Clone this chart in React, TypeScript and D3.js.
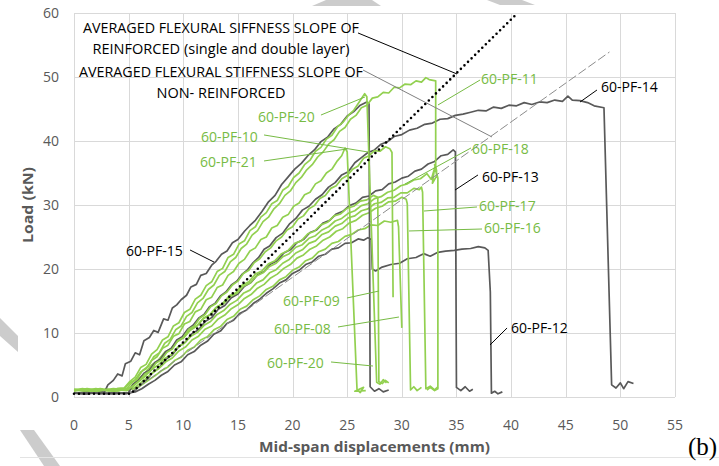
import React, { useEffect, useRef } from 'react';
import * as d3 from 'd3';

type Pt = [number, number];

// mid-span displacement (mm), load (kN)
const pf15: Pt[] = [[0,0.6],[1,0.7],[2,0.6],[2.8,0.8],[3.1,1.9],[3.6,2.6],[4.0,3.6],[4.4,3.3],[4.7,5.2],[5.2,5.6],[5.6,6.9],[6.0,6.6],[6.4,8.8],[6.9,9.3],[7.3,10.4],[7.7,10.1],[8.2,12.2],[8.6,12.0],[9.0,13.9],[9.4,14.4],[9.8,15.2],[10.3,15.9],[10.7,17.2],[11.2,17.6],[11.6,19.0],[12.1,19.3],[12.6,20.6],[13.0,21.2],[13.5,22.3],[14.0,22.8],[14.5,24.1],[15.0,24.6],[15.6,25.9],[16.1,26.8],[16.6,27.6],[17.2,29.0],[17.8,30.5],[18.4,31.5],[19.0,33.2],[19.6,34.4],[20.2,35.6],[20.8,36.5],[21.4,37.7],[22.0,38.6],[22.6,39.9],[23.2,40.6],[23.8,41.9],[24.4,42.6],[25.0,43.9],[25.6,44.6],[26.2,45.6],[26.8,46.1],[27.0,45.8],[27.1,1.6],[27.5,0.9],[27.9,1.3],[28.3,0.8],[28.8,1.1]];

const pf14: Pt[] = [[0,0.6],[1,0.5],[2,0.7],[3,0.5],[4,0.6],[5.0,0.7],[5.4,2.0],[5.9,2.6],[6.4,3.7],[6.9,4.2],[7.4,5.4],[7.9,5.9],[8.4,7.1],[8.9,7.6],[9.4,8.9],[9.9,9.4],[10.4,10.6],[10.9,11.2],[11.4,12.3],[11.9,12.9],[12.4,14.1],[12.9,14.6],[13.4,15.8],[13.9,16.4],[14.4,17.5],[14.9,18.1],[15.4,19.2],[15.9,19.9],[16.4,21.0],[16.9,21.8],[17.4,23.1],[17.9,23.6],[18.5,24.9],[19.1,25.6],[19.7,27.0],[20.3,27.9],[20.9,29.2],[21.5,29.8],[22.1,30.9],[22.7,31.6],[23.3,32.8],[23.9,33.5],[24.5,34.7],[25.1,35.2],[25.7,36.6],[26.3,37.4],[26.9,38.2],[27.5,38.6],[28.1,39.5],[28.7,39.9],[29.3,40.7],[30.0,41.0],[30.7,41.7],[31.4,42.0],[32.1,42.6],[32.8,42.8],[33.5,43.4],[34.2,43.5],[34.9,44.0],[35.6,44.2],[36.3,44.5],[37.0,44.8],[37.7,44.7],[38.4,45.3],[39.1,45.1],[39.8,45.6],[40.5,45.5],[41.2,46.0],[41.9,45.7],[42.6,46.1],[43.3,46.0],[44.0,46.4],[44.7,46.2],[45.2,47.0],[45.6,46.4],[46.3,46.3],[47.0,46.0],[47.6,45.5],[48.5,45.2],[49.2,1.9],[49.6,1.4],[50.0,2.2],[50.3,1.3],[50.7,2.4],[51.2,2.1]];

const pf13: Pt[] = [[0,0.6],[1.2,0.7],[2.4,0.5],[3.6,0.7],[4.8,0.5],[5.4,0.8],[6.0,1.7],[6.6,2.6],[7.2,3.8],[7.8,4.6],[8.4,5.9],[9.0,6.6],[9.6,7.9],[10.2,8.6],[10.8,9.9],[11.4,10.5],[12.0,11.8],[12.6,12.4],[13.2,13.7],[13.8,14.3],[14.4,15.5],[15.0,16.1],[15.6,17.3],[16.2,17.9],[16.8,19.1],[17.4,19.6],[18.0,20.8],[18.6,21.3],[19.2,22.5],[19.8,23.0],[20.4,24.1],[21.0,24.6],[21.6,25.7],[22.2,26.1],[22.8,27.2],[23.4,27.6],[24.0,28.6],[24.6,29.0],[25.2,29.9],[25.8,30.3],[26.4,31.2],[27.0,31.4],[27.6,32.2],[28.2,32.4],[28.8,33.3],[29.4,33.6],[30.0,34.2],[30.6,34.5],[31.2,35.3],[31.8,35.6],[32.4,36.4],[33.0,36.8],[33.6,37.7],[34.2,37.9],[34.7,38.6],[34.9,38.3],[35.0,1.5],[35.4,1.0],[35.8,1.6],[36.2,0.9],[36.5,1.2]];

const pf12: Pt[] = [[0,0.6],[1.2,0.5],[2.4,0.7],[3.6,0.5],[4.8,0.6],[5.6,0.8],[6.2,1.3],[6.8,2.0],[7.4,2.6],[8.0,3.4],[8.6,4.0],[9.2,5.0],[9.8,5.5],[10.4,6.6],[11.0,7.1],[11.6,8.1],[12.2,8.7],[12.8,9.8],[13.4,10.3],[14.0,11.5],[14.6,12.0],[15.2,13.1],[15.8,13.6],[16.4,14.6],[17.0,15.3],[17.6,16.2],[18.2,16.9],[18.8,17.8],[19.4,18.3],[20.0,19.3],[20.6,19.8],[21.2,20.7],[21.8,21.1],[22.4,22.0],[23.0,22.3],[23.6,23.1],[24.2,23.3],[24.8,24.0],[25.4,24.1],[26.0,24.7],[26.5,24.5],[26.9,24.9],[27.2,24.6],[27.3,20.0],[27.6,19.7],[28.2,20.3],[29.0,20.7],[29.8,20.9],[30.5,21.6],[31.3,21.8],[32.0,22.4],[32.6,22.0],[33.3,22.6],[34.0,22.8],[34.8,22.9],[35.5,23.1],[36.3,23.2],[37.0,23.5],[37.6,23.3],[37.9,22.9],[38.1,16.4],[38.2,0.6],[38.5,0.9],[38.8,0.5],[39.2,0.8]];

const pf20: Pt[] = [[0,1.1],[0.8,1.3],[1.6,0.9],[2.4,1.2],[3.2,1.0],[4.0,1.3],[4.6,1.4],[5.1,2.4],[5.6,3.1],[6.1,4.6],[6.6,5.1],[7.1,6.7],[7.6,7.4],[8.1,8.9],[8.6,9.4],[9.1,11.1],[9.6,11.6],[10.1,13.2],[10.6,13.7],[11.1,15.3],[11.6,15.9],[12.1,17.4],[12.6,18.0],[13.1,19.6],[13.6,20.1],[14.1,21.8],[14.6,22.3],[15.1,23.9],[15.6,24.4],[16.1,26.0],[16.6,26.6],[17.1,28.1],[17.6,28.8],[18.1,30.2],[18.6,30.7],[19.1,32.3],[19.6,32.9],[20.1,34.3],[20.6,35.0],[21.1,36.3],[21.6,37.0],[22.1,38.4],[22.6,39.0],[23.1,40.3],[23.6,40.9],[24.1,42.2],[24.6,42.9],[25.1,44.0],[25.6,44.8],[26.1,46.1],[26.6,47.4],[26.8,46.9],[27.7,2.3],[28.0,2.0],[28.3,2.7],[28.6,2.2]];

const pf11: Pt[] = [[0,1.0],[1.0,1.2],[2.0,0.9],[3.0,1.2],[4.0,1.0],[4.8,1.3],[5.3,2.2],[5.8,2.9],[6.3,4.2],[6.8,4.8],[7.3,6.3],[7.8,6.9],[8.3,8.4],[8.8,9.0],[9.3,10.5],[9.8,11.1],[10.3,12.6],[10.8,13.2],[11.3,14.7],[11.8,15.4],[12.3,16.8],[12.8,17.5],[13.3,19.0],[13.8,19.6],[14.3,21.1],[14.8,21.8],[15.3,23.2],[15.8,23.9],[16.3,25.3],[16.8,26.0],[17.3,27.4],[17.8,28.1],[18.3,29.4],[18.8,30.2],[19.3,31.5],[19.8,32.2],[20.3,33.5],[20.8,34.3],[21.3,35.5],[21.8,36.3],[22.3,37.5],[22.8,38.3],[23.3,39.5],[23.8,40.2],[24.3,41.5],[24.8,42.1],[25.3,43.4],[25.8,44.0],[26.3,45.2],[26.8,45.6],[27.3,46.7],[27.8,46.9],[28.3,47.6],[28.8,47.5],[29.3,48.4],[29.8,48.3],[30.3,48.9],[30.8,48.8],[31.3,49.4],[31.8,49.2],[32.2,49.9],[32.5,49.6],[33.1,49.4],[33.1,36.0],[33.2,35.2]];

const pf21: Pt[] = [[0,1.2],[1,1.0],[2,1.3],[3,1.0],[4,1.3],[4.6,1.4],[5.1,2.2],[5.6,2.7],[6.1,3.9],[6.6,4.4],[7.1,5.7],[7.6,6.3],[8.1,7.6],[8.6,8.1],[9.1,9.5],[9.6,9.9],[10.1,11.4],[10.6,11.8],[11.1,13.3],[11.6,13.7],[12.1,15.2],[12.6,15.6],[13.1,17.1],[13.6,17.5],[14.1,19.0],[14.6,19.6],[15.1,20.9],[15.6,21.5],[16.1,22.8],[16.6,23.3],[17.1,24.6],[17.6,25.0],[18.1,26.4],[18.6,26.8],[19.1,28.1],[19.6,28.5],[20.1,29.8],[20.6,30.3],[21.1,31.6],[21.6,32.0],[22.1,33.3],[22.6,33.8],[23.1,35.0],[23.6,35.6],[24.1,36.9],[24.5,37.7],[24.8,38.9],[25.0,38.3],[25.9,1.2],[26.2,0.7],[26.5,1.5],[25.7,0.9],[26.7,1.0]];

const pf10: Pt[] = [[0,1.0],[1,1.2],[2,0.9],[3,1.2],[4,1.0],[5.0,1.2],[5.5,1.9],[6.0,2.6],[6.5,3.6],[7.0,4.1],[7.5,5.3],[8.0,5.8],[8.5,7.0],[9.0,7.5],[9.5,8.8],[10.0,9.3],[10.5,10.6],[11.0,11.1],[11.5,12.3],[12.0,12.9],[12.5,14.1],[13.0,14.6],[13.5,15.8],[14.0,16.4],[14.5,17.5],[15.0,18.1],[15.5,19.3],[16.0,19.8],[16.5,21.0],[17.0,21.6],[17.5,22.7],[18.0,23.3],[18.5,24.4],[19.0,25.0],[19.5,26.1],[20.0,26.6],[20.5,27.8],[21.0,28.3],[21.5,29.4],[22.0,29.9],[22.5,31.0],[23.0,31.5],[23.5,32.6],[24.0,33.0],[24.5,34.1],[25.0,34.6],[25.5,35.6],[26.0,36.1],[26.5,37.3],[27.0,37.7],[27.5,38.5],[28.0,38.4],[28.5,39.1],[28.9,38.8],[29.1,38.2],[29.2,15.6]];

const pf18: Pt[] = [[0,1.1],[1.2,0.9],[2.4,1.2],[3.6,0.9],[4.8,1.2],[5.3,1.6],[5.9,2.8],[6.5,3.7],[7.1,5.0],[7.7,5.7],[8.3,7.0],[8.9,7.6],[9.5,8.8],[10.1,9.4],[10.7,10.6],[11.3,11.2],[11.9,12.4],[12.5,12.9],[13.1,14.1],[13.7,14.6],[14.3,15.7],[14.9,16.2],[15.5,17.3],[16.1,17.8],[16.7,18.9],[17.3,19.4],[17.9,20.4],[18.5,20.9],[19.1,21.9],[19.7,22.4],[20.3,23.4],[20.9,23.8],[21.5,24.8],[22.1,25.2],[22.7,26.1],[23.3,26.6],[23.9,27.5],[24.5,27.9],[25.1,28.7],[25.7,29.1],[26.3,29.9],[26.9,30.2],[27.5,31.0],[28.1,31.3],[28.7,32.0],[29.3,32.3],[29.9,33.0],[30.5,33.3],[31.1,33.9],[31.7,34.1],[32.3,34.9],[32.7,34.0],[33.0,35.8],[32.8,33.4],[33.2,34.6],[33.0,36.3],[33.3,34.2],[33.3,1.3],[33.0,1.0],[32.6,1.5],[32.3,1.1]];

const pf17: Pt[] = [[0,1.2],[1.2,1.0],[2.4,1.3],[3.6,1.0],[4.8,1.3],[5.3,1.5],[5.9,2.4],[6.5,3.2],[7.1,4.3],[7.7,5.0],[8.3,6.0],[8.9,6.6],[9.5,7.8],[10.1,8.4],[10.7,9.5],[11.3,10.1],[11.9,11.2],[12.5,11.8],[13.1,12.9],[13.7,13.5],[14.3,14.5],[14.9,15.1],[15.5,16.2],[16.1,16.7],[16.7,17.8],[17.3,18.3],[17.9,19.4],[18.5,19.9],[19.1,20.9],[19.7,21.5],[20.3,22.5],[20.9,23.0],[21.5,24.0],[22.1,24.4],[22.7,25.4],[23.3,25.8],[23.9,26.7],[24.5,27.1],[25.1,28.0],[25.7,28.3],[26.3,29.1],[26.9,29.4],[27.5,30.2],[28.1,30.4],[28.7,31.1],[29.3,31.2],[29.9,31.9],[30.5,31.9],[31.1,32.6],[31.6,32.4],[31.8,32.8],[31.9,32.0],[32.2,1.3],[32.6,1.7],[33.0,1.1],[33.3,1.6]];

const pf16: Pt[] = [[0,1.0],[1.2,1.2],[2.4,0.9],[3.6,1.2],[4.8,1.0],[5.4,1.3],[6.0,2.1],[6.6,2.9],[7.2,3.8],[7.8,4.5],[8.4,5.5],[9.0,6.1],[9.6,7.2],[10.2,7.8],[10.8,8.9],[11.4,9.5],[12.0,10.6],[12.6,11.1],[13.2,12.2],[13.8,12.8],[14.4,13.8],[15.0,14.4],[15.6,15.4],[16.2,16.0],[16.8,17.0],[17.4,17.6],[18.0,18.6],[18.6,19.2],[19.2,20.1],[19.8,20.7],[20.4,21.7],[21.0,22.2],[21.6,23.1],[22.2,23.6],[22.8,24.5],[23.4,25.0],[24.0,25.9],[24.6,26.3],[25.2,27.2],[25.8,27.6],[26.4,28.4],[27.0,28.8],[27.6,29.5],[28.2,29.8],[28.8,30.5],[29.4,30.6],[30.0,31.2],[30.4,30.9],[30.5,30.2],[30.8,1.1],[31.1,1.6],[31.4,1.0],[31.8,1.5]];

const pf09: Pt[] = [[0,1.0],[1.2,1.3],[2.4,1.0],[3.6,1.3],[4.8,1.1],[5.2,1.5],[5.8,2.6],[6.4,3.5],[7.0,4.7],[7.6,5.5],[8.2,6.7],[8.8,7.4],[9.4,8.6],[10.0,9.2],[10.6,10.4],[11.2,11.0],[11.8,12.2],[12.4,12.8],[13.0,14.0],[13.6,14.6],[14.2,15.8],[14.8,16.3],[15.4,17.5],[16.0,18.0],[16.6,19.2],[17.2,19.7],[17.8,20.8],[18.4,21.3],[19.0,22.4],[19.6,22.9],[20.2,24.0],[20.8,24.4],[21.4,25.5],[22.0,25.9],[22.6,26.9],[23.2,27.3],[23.8,28.3],[24.4,28.6],[25.0,29.5],[25.6,29.8],[26.2,30.6],[26.8,30.8],[27.4,31.5],[27.8,31.2],[27.9,2.4],[28.2,2.1],[28.5,2.6],[28.8,2.2]];

const pf08: Pt[] = [[0,1.1],[1.2,0.9],[2.4,1.2],[3.6,0.9],[4.8,1.2],[5.6,1.3],[6.2,1.9],[6.8,2.6],[7.4,3.3],[8.0,4.1],[8.6,4.7],[9.2,5.7],[9.8,6.2],[10.4,7.3],[11.0,7.8],[11.6,8.9],[12.2,9.4],[12.8,10.5],[13.4,11.0],[14.0,12.1],[14.6,12.6],[15.2,13.7],[15.8,14.2],[16.4,15.2],[17.0,15.8],[17.6,16.8],[18.2,17.3],[18.8,18.3],[19.4,18.8],[20.0,19.8],[20.6,20.3],[21.2,21.3],[21.8,21.7],[22.4,22.7],[23.0,23.1],[23.6,24.0],[24.2,24.3],[24.8,25.1],[25.4,25.4],[26.0,26.1],[26.6,26.3],[27.2,26.9],[27.8,26.8],[28.4,27.5],[29.0,27.3],[29.6,27.6],[29.7,26.6],[30.0,10.8]];

// averaged flexural stiffness slopes
const slopeReinforced: Pt[] = [[0,0.5],[5.2,0.5],[40.6,60]];
const slopeNonReinforced: Pt[] = [[5.0,0.5],[49.0,53.9]];

const xTicks = d3.range(0, 56, 5);
const yTicks = d3.range(0, 61, 10);

const GREEN = '#92d050';
const GRAY = '#595959';
const LABEL_GREEN = '#77bb44';

// draw order roughly as in the figure
const series: { pts: Pt[]; color: string }[] = [
    { pts: pf12, color: GRAY },
    { pts: pf13, color: GRAY },
    { pts: pf08, color: GREEN },
    { pts: pf16, color: GREEN },
    { pts: pf17, color: GREEN },
    { pts: pf09, color: GREEN },
    { pts: pf18, color: GREEN },
    { pts: pf14, color: GRAY },
    { pts: pf10, color: GREEN },
    { pts: pf15, color: GRAY },
    { pts: pf21, color: GREEN },
    { pts: pf11, color: GREEN },
    { pts: pf20, color: GREEN },
];

// label text (start, baseline) and leader line, in data units
const labels = [
    { text: '60-PF-11', green: true, at: [37.25, 48.91], from: [33.31, 45.63], to: [37.16, 49.53] },
    { text: '60-PF-14', green: false, at: [48.23, 47.66], from: [46.31, 46.09], to: [47.86, 47.97] },
    { text: '60-PF-18', green: true, at: [36.42, 37.97], from: [30.29, 33.28], to: [36.33, 38.91] },
    { text: '60-PF-13', green: false, at: [37.34, 33.59], from: [34.87, 32.34], to: [36.97, 34.69] },
    { text: '60-PF-17', green: true, at: [37.06, 29.06], from: [32.03, 29.06], to: [36.88, 29.69] },
    { text: '60-PF-16', green: true, at: [37.52, 25.63], from: [30.66, 25.94], to: [37.34, 26.25] },
    { text: '60-PF-12', green: false, at: [40.0, 10.0], from: [38.07, 8.13], to: [39.63, 10.78] },
    { text: '60-PF-15', green: false, at: [4.76, 22.03], from: [12.81, 21.09], to: [10.62, 22.97] },
    { text: '60-PF-20', green: true, at: [16.84, 42.97], from: [26.63, 46.88], to: [22.6, 44.06] },
    { text: '60-PF-10', green: true, at: [11.62, 39.84], from: [26.91, 38.28], to: [17.39, 40.94] },
    { text: '60-PF-21', green: true, at: [11.53, 35.94], from: [24.98, 38.75], to: [17.39, 36.88] },
    { text: '60-PF-09', green: true, at: [19.13, 14.22], from: [27.91, 16.56], to: [24.98, 15.47] },
    { text: '60-PF-08', green: true, at: [18.3, 9.84], from: [29.74, 12.5], to: [24.16, 10.94] },
    { text: '60-PF-20', green: true, at: [17.66, 4.53], from: [27.36, 4.84], to: [23.52, 5.47] },
];

const noteLines = [
    { text: 'AVERAGED FLEXURAL SIFFNESS SLOPE OF', y: 56.88, len: 276 },
    { text: 'REINFORCED (single and double layer)', y: 53.59, len: 257 },
    { text: 'AVERAGED FLEXURAL STIFFNESS SLOPE OF', y: 50.0, len: 284 },
    { text: 'NON- REINFORCED', y: 46.72, len: 129 },
];

const FONT = "'Open Sans', 'Liberation Sans', sans-serif";

const App = () => {
    const svgRef = useRef<SVGSVGElement>(null);

    useEffect(() => {
        const svg = d3.select(svgRef.current);
        svg.selectAll('*').remove();

        const x = d3.scaleLinear().domain([0, 55]).range([74, 675]);
        const y = d3.scaleLinear().domain([0, 60]).range([397, 13]);

        svg.append('rect').attr('width', 719).attr('height', 466).attr('fill', '#fff');

        // grey watermark fragments
        const wm = svg.append('g').attr('fill', '#cccccc');
        wm.append('path').attr('d', 'M312,6 L326,0 L372,0 L381,6 Z');
        wm.append('path').attr('d', 'M487,0 L522,0 L535,5 L500,5 Z');
        wm.append('path').attr('d', 'M0,318 L18,336 L18,352 L0,336 Z');
        wm.append('path').attr('d', 'M20,430 L34,430 L60,466 L44,466 Z');

        svg.append('line')
            .attr('x1', 20).attr('x2', 719).attr('y1', 457.5).attr('y2', 457.5)
            .attr('stroke', '#e3e3e3');

        // grid
        const grid = svg.append('g').attr('stroke', '#d9d9d9').attr('stroke-width', 1);
        xTicks.forEach(t => {
            grid.append('line')
                .attr('x1', Math.round(x(t)) + 0.5).attr('x2', Math.round(x(t)) + 0.5)
                .attr('y1', y(60)).attr('y2', y(0));
        });
        yTicks.forEach(t => {
            grid.append('line')
                .attr('x1', x(0)).attr('x2', x(55))
                .attr('y1', Math.round(y(t)) + 0.5).attr('y2', Math.round(y(t)) + 0.5);
        });

        // tick labels
        svg.append('g').selectAll('text').data(xTicks).enter().append('text')
            .attr('x', d => x(d)).attr('y', 430)
            .attr('text-anchor', 'middle')
            .attr('font-family', FONT).attr('font-size', 14).attr('fill', GRAY)
            .text(d => d);
        svg.append('g').selectAll('text').data(yTicks).enter().append('text')
            .attr('x', 59).attr('y', d => y(d) + 5)
            .attr('text-anchor', 'end')
            .attr('font-family', FONT).attr('font-size', 14).attr('fill', GRAY)
            .text(d => d);

        // axis titles
        svg.append('text')
            .attr('x', 374.5).attr('y', 452)
            .attr('text-anchor', 'middle')
            .attr('font-family', FONT).attr('font-weight', 'bold').attr('font-size', 15)
            .attr('fill', GRAY)
            .attr('textLength', 231).attr('lengthAdjust', 'spacingAndGlyphs')
            .text('Mid-span displacements (mm)');
        svg.append('text')
            .attr('transform', 'translate(33,205) rotate(-90)')
            .attr('text-anchor', 'middle')
            .attr('font-family', FONT).attr('font-weight', 'bold').attr('font-size', 15)
            .attr('fill', GRAY)
            .attr('textLength', 76).attr('lengthAdjust', 'spacingAndGlyphs')
            .text('Load  (kN)');

        const line = d3.line<Pt>().x(d => x(d[0])).y(d => y(d[1]));

        // test curves
        const curves = svg.append('g').attr('fill', 'none')
            .attr('stroke-width', 1.7).attr('stroke-linejoin', 'round');
        series.forEach(s => {
            curves.append('path').attr('d', line(s.pts)).attr('stroke', s.color);
        });

        // slope lines
        svg.append('path')
            .attr('d', line(slopeNonReinforced))
            .attr('fill', 'none').attr('stroke', '#8c8c8c').attr('stroke-width', 1)
            .attr('stroke-dasharray', '9 3');
        svg.append('path')
            .attr('d', line(slopeReinforced))
            .attr('fill', 'none').attr('stroke', '#000').attr('stroke-width', 2.6)
            .attr('stroke-linecap', 'round').attr('stroke-dasharray', '0 5');

        // notes on the slope lines
        noteLines.forEach(n => {
            svg.append('text')
                .attr('x', x(13.45)).attr('y', y(n.y))
                .attr('text-anchor', 'middle')
                .attr('font-family', FONT).attr('font-size', 14).attr('fill', '#000')
                .attr('textLength', n.len).attr('lengthAdjust', 'spacingAndGlyphs')
                .text(n.text);
        });
        svg.append('line')
            .attr('x1', x(25.99)).attr('y1', y(56.88)).attr('x2', x(35.05)).attr('y2', y(50.47))
            .attr('stroke', '#000').attr('stroke-width', 1);
        svg.append('line')
            .attr('x1', x(26.45)).attr('y1', y(51.09)).attr('x2', x(38.25)).attr('y2', y(40.63))
            .attr('stroke', '#808080').attr('stroke-width', 1);

        // specimen labels
        labels.forEach(l => {
            const c = l.green ? LABEL_GREEN : '#000';
            svg.append('line')
                .attr('x1', x(l.from[0])).attr('y1', y(l.from[1]))
                .attr('x2', x(l.to[0])).attr('y2', y(l.to[1]))
                .attr('stroke', c).attr('stroke-width', 1);
            svg.append('text')
                .attr('x', x(l.at[0])).attr('y', y(l.at[1]))
                .attr('font-family', FONT).attr('font-size', 14).attr('fill', c)
                .text(l.text);
        });

        svg.append('text')
            .attr('x', 688).attr('y', 455)
            .attr('font-family', "'Liberation Serif', 'DejaVu Serif', serif")
            .attr('font-size', 25).attr('fill', '#000')
            .text('(b)');
    }, []);

    return (
        <svg ref={svgRef} width={719} height={466}
            style={{ position: 'absolute', left: 0, top: 0, display: 'block' }} />
    );
};

export default App;
